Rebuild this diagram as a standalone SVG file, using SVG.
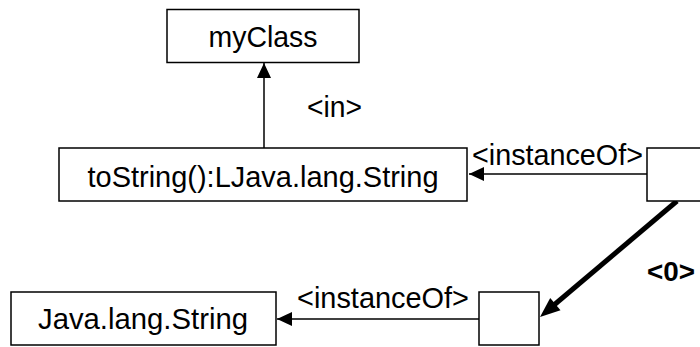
<svg xmlns="http://www.w3.org/2000/svg" width="700" height="347" viewBox="0 0 700 347">
  <style>
    .box { fill: #ffffff; stroke: #000000; stroke-width: 1.5; }
    .edge { fill: none; stroke: #000000; stroke-width: 1.5; }
    .thick { fill: none; stroke: #000000; stroke-width: 5; }
    .lbl { font-family: "Liberation Sans", Arial, sans-serif; font-size: 29px; fill: #000000; }
    .bold { font-weight: bold; font-size: 28px; }
  </style>
  <defs>
    <marker id="arrow" markerUnits="userSpaceOnUse" markerWidth="16" markerHeight="14" refX="15" refY="7" orient="auto">
      <path d="M0,0 L15,7 L0,14 Z" fill="#000000"/>
    </marker>
  </defs>
  <rect width="700" height="347" fill="#ffffff"/>

  <g id="connectors">
    <!-- toString -> myClass -->
    <line class="edge" x1="264" y1="148" x2="264" y2="63" marker-end="url(#arrow)"/>
    <text class="lbl" x="307" y="117" textLength="55" lengthAdjust="spacingAndGlyphs">&lt;in&gt;</text>
    <!-- object -> toString -->
    <line class="edge" x1="647" y1="174" x2="469" y2="174" marker-end="url(#arrow)"/>
    <text class="lbl" x="472" y="165" textLength="171" lengthAdjust="spacingAndGlyphs">&lt;instanceOf&gt;</text>
    <!-- object -> result (thick) -->
    <line class="thick" x1="677" y1="201" x2="554" y2="305"/>
    <path d="M540,317 L560.5,310.2 L550.2,298 Z" fill="#000000"/>
    <text class="lbl bold" x="647" y="281" textLength="48" lengthAdjust="spacingAndGlyphs">&lt;0&gt;</text>
    <!-- result -> Java.lang.String -->
    <line class="edge" x1="479" y1="319" x2="277" y2="319" marker-end="url(#arrow)"/>
    <text class="lbl" x="297" y="308" textLength="172" lengthAdjust="spacingAndGlyphs">&lt;instanceOf&gt;</text>
  </g>

  <g id="myClass">
    <rect class="box" x="167" y="9.5" width="192" height="53"/>
    <text class="lbl" x="263" y="47" text-anchor="middle" textLength="109" lengthAdjust="spacingAndGlyphs">myClass</text>
  </g>

  <g id="toString">
    <rect class="box" x="59" y="148" width="408" height="53"/>
    <text class="lbl" x="263" y="187" text-anchor="middle" textLength="351" lengthAdjust="spacingAndGlyphs">toString():LJava.lang.String</text>
  </g>

  <g id="object">
    <rect class="box" x="647" y="148" width="70" height="53"/>
  </g>

  <g id="result">
    <rect class="box" x="479" y="292" width="60" height="53"/>
  </g>

  <g id="javaString">
    <rect class="box" x="11" y="292" width="265" height="53"/>
    <text class="lbl" x="143" y="329" text-anchor="middle" textLength="210" lengthAdjust="spacingAndGlyphs">Java.lang.String</text>
  </g>
</svg>
